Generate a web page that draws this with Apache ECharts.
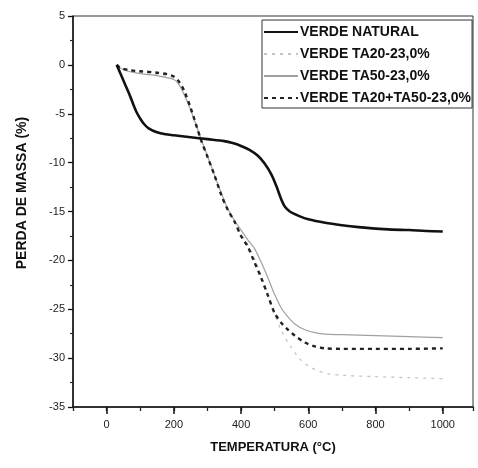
<!DOCTYPE html>
<html>
<head>
<meta charset="utf-8">
<script src="https://cdn.jsdelivr.net/npm/echarts@6/dist/echarts.min.js"></script>
<style>html,body{margin:0;padding:0;background:#fff}#c{width:478px;height:468px}</style>
</head>
<body>
<div id="c"></div>
<script>
var FONT = '"Liberation Sans",Arial,sans-serif';

var seriesNames = ['VERDE NATURAL', 'VERDE TA20-23,0%', 'VERDE TA50-23,0%', 'VERDE TA20+TA50-23,0%'];

var tNatural = [30,40,50,60,70,80,90,100,110,125,150,175,200,250,300,350,375,400,425,450,470,490,505,520,530,545,575,600,650,700,750,800,850,900,950,1000];
var vNatural = [0,-0.8,-1.6,-2.4,-3.2,-4.1,-4.9,-5.5,-6.0,-6.5,-6.9,-7.1,-7.2,-7.4,-7.6,-7.8,-8.0,-8.3,-8.7,-9.3,-10.1,-11.2,-12.4,-13.8,-14.5,-15.0,-15.5,-15.8,-16.15,-16.4,-16.6,-16.75,-16.85,-16.9,-17.0,-17.05];

var tTA20 = [30,50,100,150,200,215,230,250,280,300,320,340,360,380,400,420,440,460,480,500,520,545,575,600,630,660,700,800,900,1000];
var vTA20 = [0,-0.4,-0.8,-1.0,-1.4,-1.9,-2.9,-4.6,-7.6,-9.4,-11.3,-13.1,-14.8,-16.1,-17.3,-18.4,-19.8,-21.6,-23.6,-25.5,-27.2,-28.7,-30.1,-30.8,-31.3,-31.6,-31.75,-31.9,-32.0,-32.1];

var tTA50 = [30,50,100,150,200,215,230,250,280,300,320,340,360,380,400,420,440,460,480,500,520,540,560,590,620,650,700,800,900,1000];
var vTA50 = [0,-0.5,-0.9,-1.1,-1.5,-2.0,-3.0,-4.6,-7.5,-9.3,-11.2,-13.0,-14.7,-15.9,-16.9,-17.9,-18.8,-20.2,-21.8,-23.5,-24.9,-25.8,-26.5,-27.1,-27.4,-27.55,-27.6,-27.7,-27.8,-27.9];

var tMix = [30,40,70,100,150,180,200,215,230,250,280,300,320,340,360,380,400,420,440,460,480,500,520,540,560,590,620,650,700,800,900,1000];
var vMix = [0,-0.3,-0.55,-0.65,-0.8,-0.95,-1.2,-1.7,-2.6,-4.4,-7.6,-9.4,-11.2,-13.2,-14.8,-16.0,-17.5,-18.6,-20.2,-21.8,-23.6,-25.4,-26.4,-27.1,-27.7,-28.4,-28.8,-29.0,-29.05,-29.05,-29.05,-29.0];

var xMin = -100, xMax = 1090;

function pairs(t, v){ return t.map(function(x,i){ return [x, v[i]]; }); }

var W = 478, GL = 73, GR = 5, GT = 16, GB = 61;
var pxPerUnit = (W - GL - GR) / (xMax - xMin);
var zeroLeft = GL + (0 - xMin) * pxPerUnit;

var chart = echarts.init(document.getElementById('c'), null, {renderer:'canvas'});
chart.setOption({
  animation:false,
  backgroundColor:'#fff',
  grid:[
    {left:GL, right:GR, top:GT, bottom:GB, show:true, borderColor:'#333', borderWidth:1, backgroundColor:'transparent'},
    {left:zeroLeft, right:GR, top:GT, bottom:GB, show:false}
  ],
  legend:{
    orient:'vertical', left:262, top:20,
    padding:[5,1,3,1], itemGap:8, itemWidth:34, itemHeight:14,
    borderColor:'#333', borderWidth:1, backgroundColor:'#fff',
    itemStyle:{opacity:0},
    textStyle:{fontFamily:FONT, fontSize:14, fontWeight:'bold', color:'#111', padding:[0,0,0,-3]},
    data:seriesNames
  },
  xAxis:[
    {
      gridIndex:0, type:'value', min:xMin, max:xMax, interval:100, position:'bottom',
      axisLine:{show:true, onZero:false, lineStyle:{color:'#111', width:1.5}},
      splitLine:{show:false},
      axisTick:{show:true, inside:false, length:4, lineStyle:{color:'#222', width:1.3}},
      axisLabel:{show:false}
    },
    {
      gridIndex:1, type:'value', min:0, max:xMax, interval:200, position:'bottom',
      name:'TEMPERATURA (°C)', nameLocation:'middle', nameGap:34,
      nameTextStyle:{fontFamily:FONT, fontSize:13, fontWeight:'bold', color:'#111', padding:[0, (zeroLeft-GL), 0, 0]},
      axisLine:{show:false, onZero:false},
      splitLine:{show:false},
      axisTick:{show:true, inside:false, length:7, lineStyle:{color:'#111', width:1.5}},
      axisLabel:{show:true, margin:12, fontFamily:FONT, fontSize:11, color:'#222', showMaxLabel:false,
        formatter:function(v){ return v <= 1000 ? String(v) : ''; }}
    }
  ],
  yAxis:[
    {
      gridIndex:0, type:'value', min:-35, max:5, interval:5,
      axisLine:{show:true, onZero:false, lineStyle:{color:'#111', width:1.5}},
      splitLine:{show:false},
      axisTick:{show:true, inside:false, length:5, lineStyle:{color:'#111', width:1.3}},
      minorTick:{show:true, splitNumber:2, length:3, lineStyle:{color:'#222', width:1.1}},
      axisLabel:{margin:8, fontFamily:FONT, fontSize:11, color:'#222'}
    },
    {
      gridIndex:1, type:'value', min:-35, max:5, show:false
    }
  ],
  graphic:[{
    type:'text', x:22, y:193, rotation:Math.PI/2,
    style:{text:'PERDA DE MASSA (%)', font:'bold 14px ' + FONT, fill:'#111', textAlign:'center', textVerticalAlign:'middle'}
  }],
  series:[
    {name:seriesNames[0], type:'line', xAxisIndex:0, yAxisIndex:0, showSymbol:false, symbol:'none', smooth:0.3, data:pairs(tNatural, vNatural),
     lineStyle:{color:'#111', width:2.6}, itemStyle:{color:'#111'}, z:5},
    {name:seriesNames[1], type:'line', xAxisIndex:0, yAxisIndex:0, showSymbol:false, symbol:'none', smooth:0.3, data:pairs(tTA20, vTA20),
     lineStyle:{color:'#c4c4c4', width:1.3, type:[3,5]}, itemStyle:{color:'#c4c4c4'}, z:2},
    {name:seriesNames[2], type:'line', xAxisIndex:0, yAxisIndex:0, showSymbol:false, symbol:'none', smooth:0.3, data:pairs(tTA50, vTA50),
     lineStyle:{color:'#a0a0a0', width:1.2}, itemStyle:{color:'#a0a0a0'}, z:3},
    {name:seriesNames[3], type:'line', xAxisIndex:0, yAxisIndex:0, showSymbol:false, symbol:'none', smooth:0.3, data:pairs(tMix, vMix),
     lineStyle:{color:'#222', width:2.4, type:[4,4]}, itemStyle:{color:'#222'}, z:4}
  ]
});
</script>
</body>
</html>
